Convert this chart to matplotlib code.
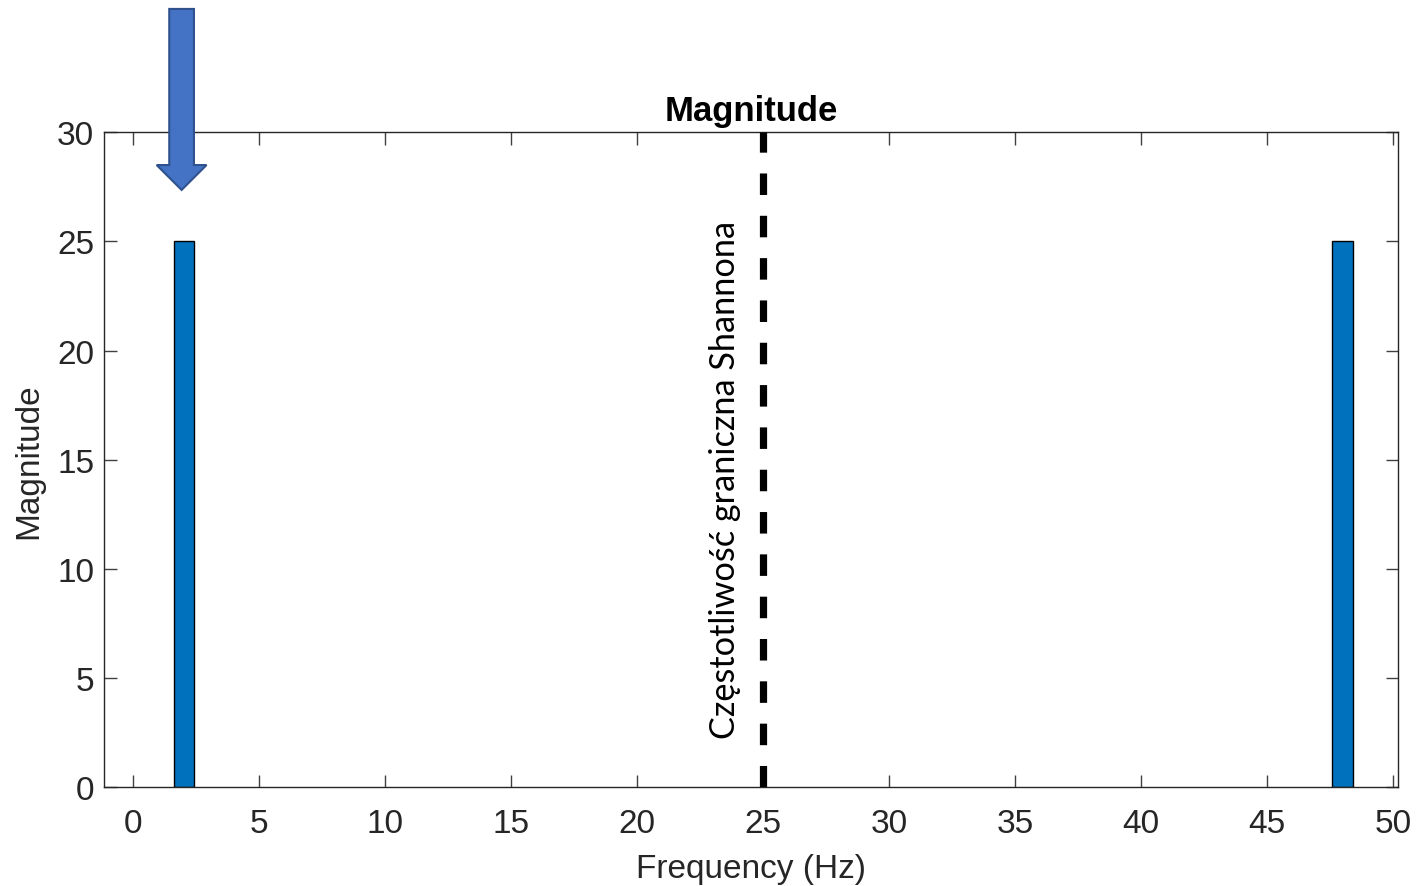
import matplotlib
matplotlib.use("Agg")
import matplotlib.pyplot as plt
from matplotlib.patches import Polygon

freqs = [2, 48]
mags = [25, 25]
nyquist = 25
xticks = list(range(0, 51, 5))
yticks = list(range(0, 31, 5))
title = "Magnitude"
xlabel = "Frequency (Hz)"
ylabel = "Magnitude"
annot = "Częstotliwość graniczna Shannona"

plt.rcParams['font.family'] = ['Liberation Sans', 'DejaVu Sans']
fig = plt.figure(figsize=(14.17, 8.87), dpi=100)
ax = fig.add_axes([104/1417, 1-788.3/887, (1398-104)/1417, (788.3-133.3)/887])

ax.bar(freqs, mags, width=0.8, color='#0072BD', edgecolor='black', linewidth=1.0, zorder=2)
ax.plot([nyquist, nyquist], [0, 30], color='black', lw=5.2, dashes=(2.98, 2.88), zorder=3)

ax.set_xlim(-1.16, 50.2)
ax.set_ylim(0, 30)
ax.set_xticks(xticks)
ax.set_yticks(yticks)
ax.tick_params(direction='in', length=9, width=1, colors='#404040', labelcolor='#262626',
               labelsize=24, top=True, right=True)
ax.tick_params(axis='x', pad=15)
ax.tick_params(axis='y', pad=7)
for s in ax.spines.values():
    s.set_color('#262626')
    s.set_linewidth(1)

ax.set_title(title, fontsize=25, fontweight='bold', pad=9)
ax.set_xlabel(xlabel, fontsize=24, color='#262626', labelpad=10)
ax.set_ylabel(ylabel, fontsize=24, color='#262626', labelpad=9)

ax.text(23.5, 14.12, annot, rotation=90, ha='center', va='center', fontsize=24.7,
        family=['Lato', 'DejaVu Sans'], color='black')

# arrow decoration (data coords, unclipped)
cx = 1.92
sw = 0.49
hw = 0.99
tip = 27.36
hstart = 28.5
top = 35.65
arrow = Polygon([[cx - sw, top], [cx + sw, top], [cx + sw, hstart], [cx + hw, hstart],
                 [cx, tip], [cx - hw, hstart], [cx - sw, hstart]], closed=True,
                facecolor='#4472C4', edgecolor='#2F528F', linewidth=1.5, clip_on=False, zorder=5)
ax.add_patch(arrow)

fig.savefig("out.png", dpi=100)
